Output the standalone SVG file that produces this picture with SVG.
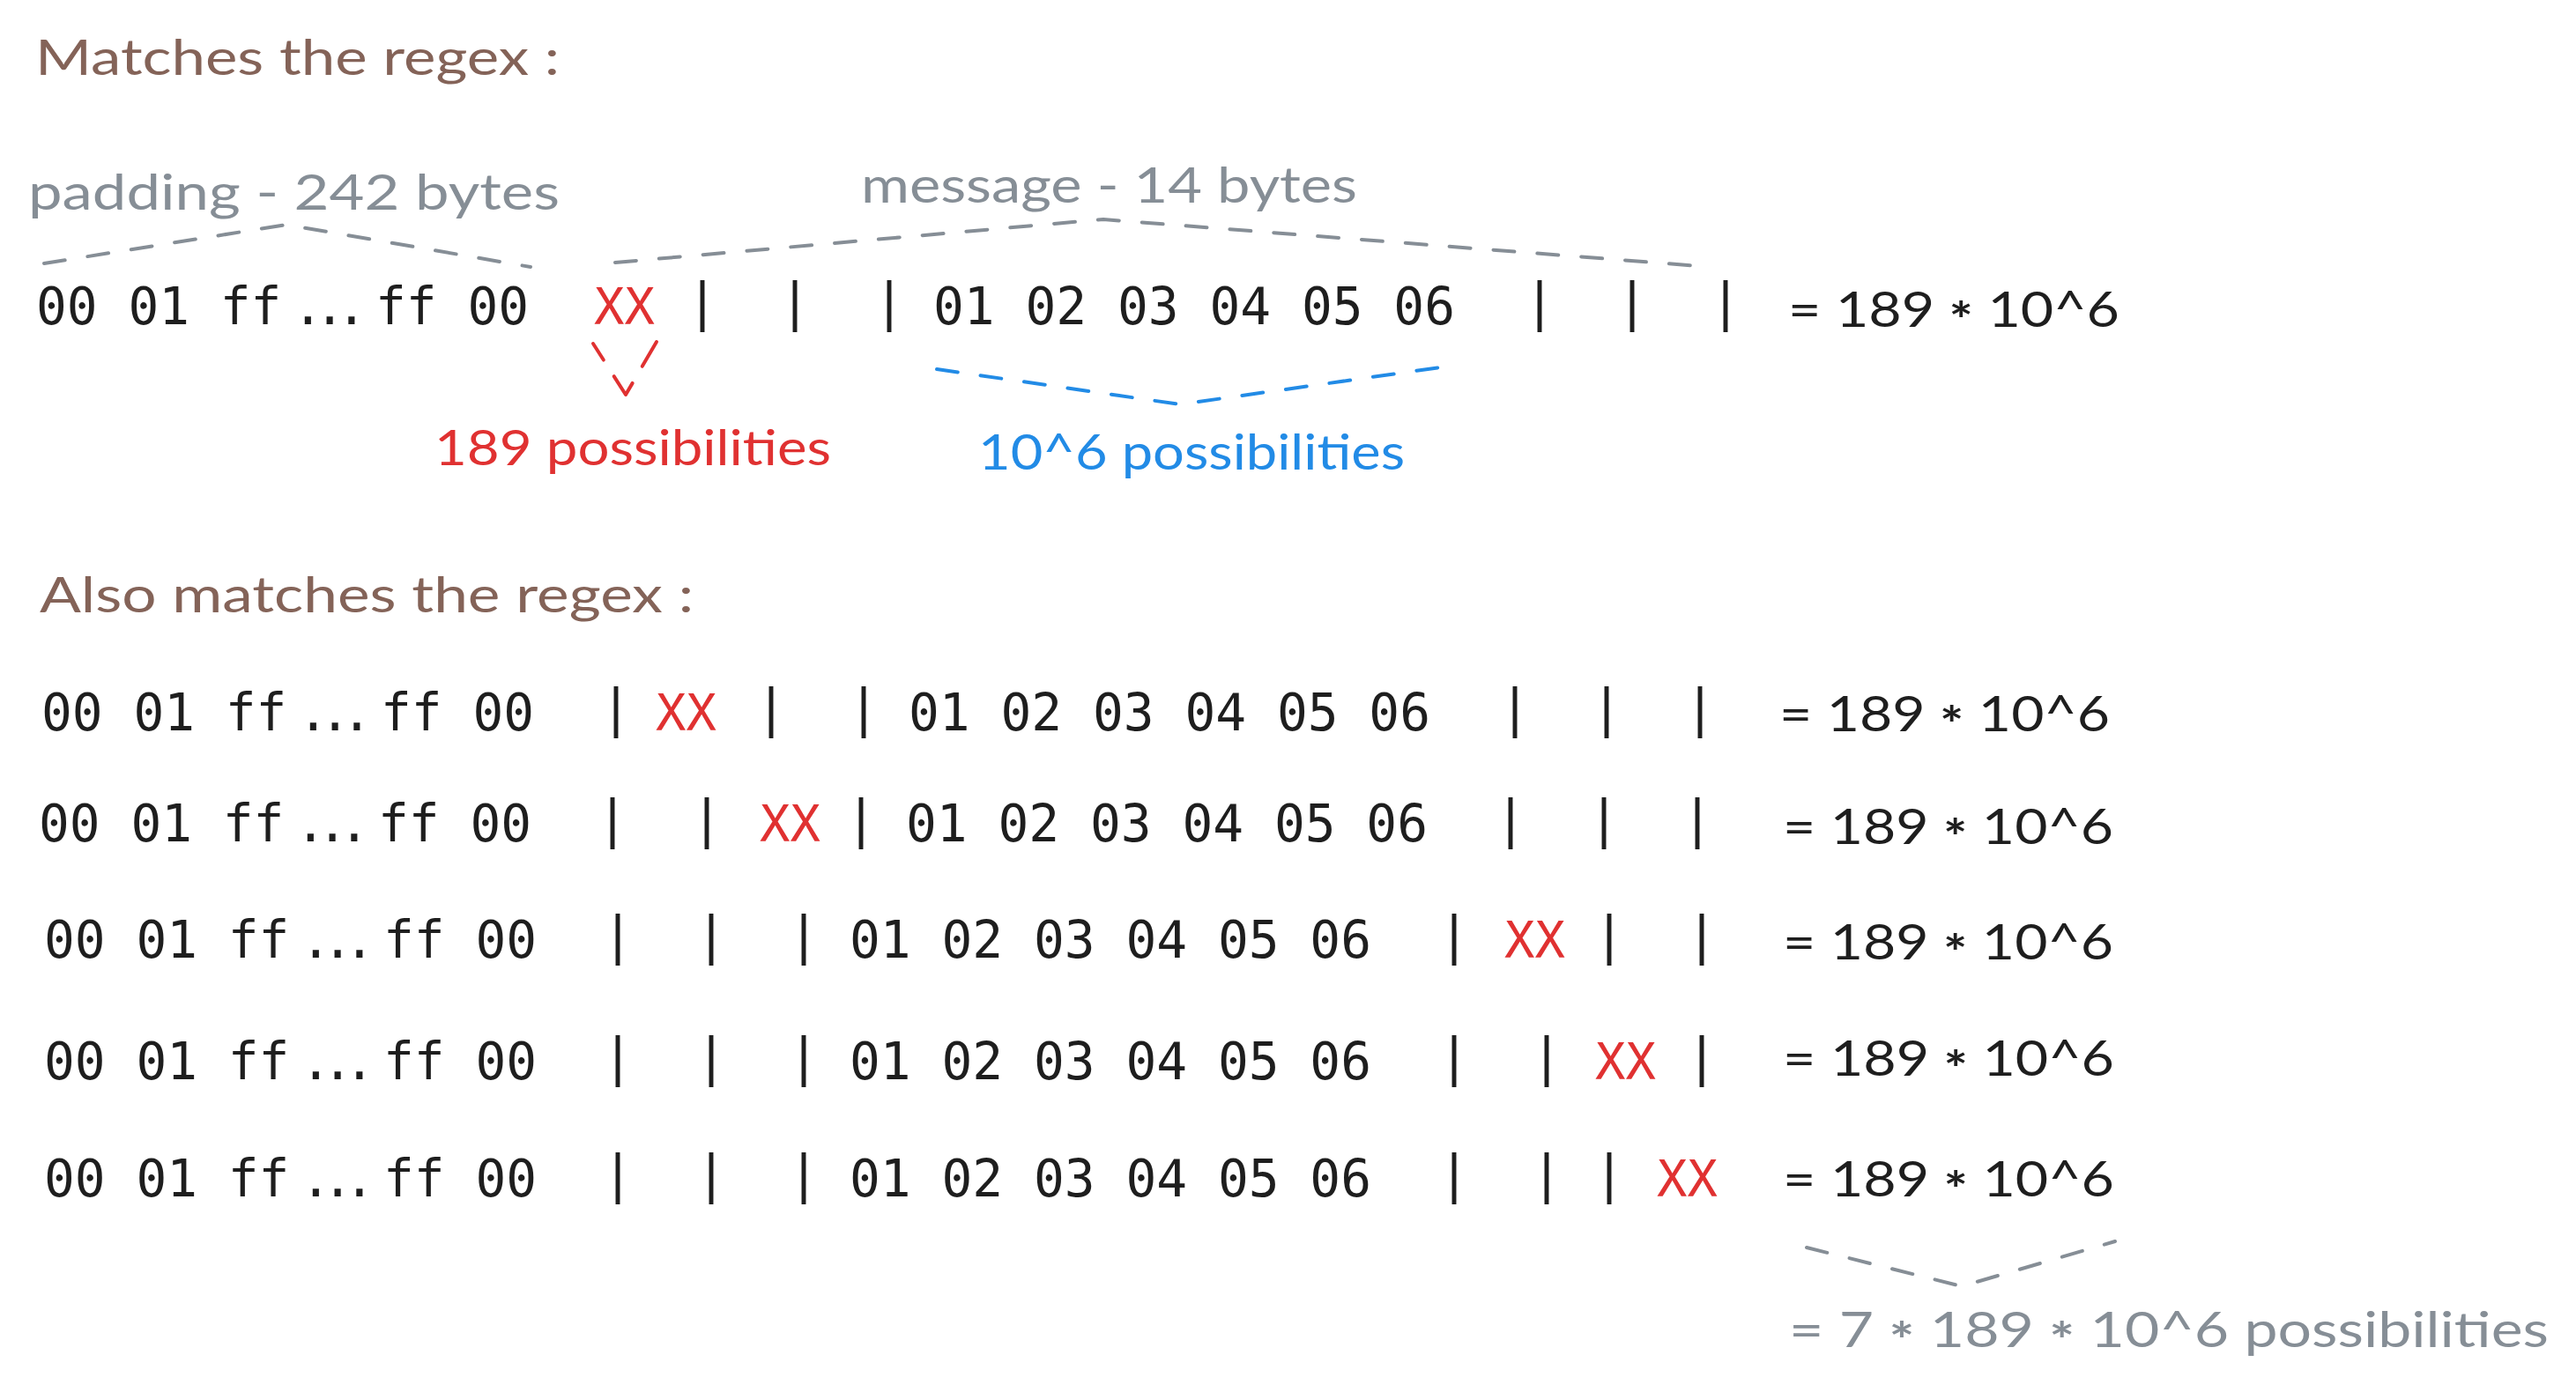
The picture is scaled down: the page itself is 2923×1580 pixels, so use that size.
<svg xmlns="http://www.w3.org/2000/svg" width="2923" height="1580" viewBox="0 0 2923 1580">
<style>
.hand{font-family:Lato,"Open Sans","Noto Sans",sans-serif;font-size:56px;}
.brown{fill:#846358;}
.gray{fill:#868e96;}
.red{fill:#e03131;}
.blue{fill:#228be6;}
.blk{fill:#1e1e1e;}
.mono{font-family:"DejaVu Sans Mono","Liberation Mono",monospace;font-size:57.8px;fill:#1e1e1e;}
.dots{letter-spacing:-10px;}
.xx{font-family:"DejaVu Sans Mono","Liberation Mono",monospace;font-size:57px;fill:#e03131;}
.pipe{font-family:"DejaVu Sans Mono","Liberation Mono",monospace;font-size:59px;fill:#1e1e1e;text-anchor:middle;}
.ast{font-weight:bold;}
.dash{fill:none;stroke-width:4;stroke-linecap:round;stroke-linejoin:round;stroke-dasharray:24 26;}
.vdash{fill:none;stroke-width:4;stroke-linecap:round;stroke-linejoin:round;stroke-dasharray:22 22 40 22 40;}
</style>
<rect width="2923" height="1580" fill="#ffffff"/>

<g id="title1"><text class="hand brown" x="40" y="85" textLength="595" lengthAdjust="spacingAndGlyphs">Matches the regex :</text></g>
<g id="padding-label"><text class="hand gray" x="32" y="238" textLength="603" lengthAdjust="spacingAndGlyphs">padding - 242 bytes</text></g>
<g id="message-label"><text class="hand gray" x="977" y="230" textLength="563" lengthAdjust="spacingAndGlyphs">message - 14 bytes</text></g>

<g id="row1">
<text class="mono" x="41" y="368">00 01 ff<tspan class="dots" x="332">...</tspan><tspan x="426">ff 00</tspan></text>
<text class="xx" x="674" y="368" textLength="69" lengthAdjust="spacingAndGlyphs">XX</text>
<text class="pipe" x="797" y="363">|</text>
<text class="pipe" x="902" y="363">|</text>
<text class="pipe" x="1009" y="363">|</text>
<text class="mono" x="1059" y="368" textLength="592" lengthAdjust="spacingAndGlyphs">01 02 03 04 05 06</text>
<text class="pipe" x="1747" y="363">|</text>
<text class="pipe" x="1852" y="363">|</text>
<text class="pipe" x="1958" y="363">|</text>
<text class="hand blk" x="2029" y="371" textLength="376" lengthAdjust="spacingAndGlyphs">= 189 <tspan class="ast" dy="12">*</tspan><tspan dy="-12"> 10^6</tspan></text>
</g>

<g id="label-189"><text class="hand red" x="493" y="528" textLength="450" lengthAdjust="spacingAndGlyphs">189 possibilities</text></g>
<g id="label-10e6"><text class="hand blue" x="1110" y="533" textLength="484" lengthAdjust="spacingAndGlyphs">10^6 possibilities</text></g>

<g id="title2"><text class="hand brown" x="45" y="695" textLength="742" lengthAdjust="spacingAndGlyphs">Also matches the regex :</text></g>

<g id="row2">
<text class="mono" x="47" y="829">00 01 ff<tspan class="dots" x="338">...</tspan><tspan x="432">ff 00</tspan></text>
<text class="pipe" x="699" y="824">|</text>
<text class="xx" x="744" y="829" textLength="69" lengthAdjust="spacingAndGlyphs">XX</text>
<text class="pipe" x="875" y="824">|</text>
<text class="pipe" x="980" y="824">|</text>
<text class="mono" x="1031" y="829" textLength="592" lengthAdjust="spacingAndGlyphs">01 02 03 04 05 06</text>
<text class="pipe" x="1719" y="824">|</text>
<text class="pipe" x="1823" y="824">|</text>
<text class="pipe" x="1929" y="824">|</text>
<text class="hand blk" x="2019" y="830" textLength="375" lengthAdjust="spacingAndGlyphs">= 189 <tspan class="ast" dy="12">*</tspan><tspan dy="-12"> 10^6</tspan></text>
</g>

<g id="row3">
<text class="mono" x="44" y="955">00 01 ff<tspan class="dots" x="335">...</tspan><tspan x="429">ff 00</tspan></text>
<text class="pipe" x="695" y="950">|</text>
<text class="pipe" x="802" y="950">|</text>
<text class="xx" x="862" y="955" textLength="69" lengthAdjust="spacingAndGlyphs">XX</text>
<text class="pipe" x="977" y="950">|</text>
<text class="mono" x="1028" y="955" textLength="592" lengthAdjust="spacingAndGlyphs">01 02 03 04 05 06</text>
<text class="pipe" x="1714" y="950">|</text>
<text class="pipe" x="1820" y="950">|</text>
<text class="pipe" x="1926" y="950">|</text>
<text class="hand blk" x="2023" y="958" textLength="375" lengthAdjust="spacingAndGlyphs">= 189 <tspan class="ast" dy="12">*</tspan><tspan dy="-12"> 10^6</tspan></text>
</g>

<g id="row4">
<text class="mono" x="50" y="1087">00 01 ff<tspan class="dots" x="341">...</tspan><tspan x="435">ff 00</tspan></text>
<text class="pipe" x="701" y="1082">|</text>
<text class="pipe" x="807" y="1082">|</text>
<text class="pipe" x="912" y="1082">|</text>
<text class="mono" x="964" y="1087" textLength="592" lengthAdjust="spacingAndGlyphs">01 02 03 04 05 06</text>
<text class="pipe" x="1650" y="1082">|</text>
<text class="xx" x="1707" y="1087" textLength="69" lengthAdjust="spacingAndGlyphs">XX</text>
<text class="pipe" x="1826" y="1082">|</text>
<text class="pipe" x="1931" y="1082">|</text>
<text class="hand blk" x="2023" y="1089" textLength="375" lengthAdjust="spacingAndGlyphs">= 189 <tspan class="ast" dy="12">*</tspan><tspan dy="-12"> 10^6</tspan></text>
</g>

<g id="row5">
<text class="mono" x="50" y="1225">00 01 ff<tspan class="dots" x="341">...</tspan><tspan x="435">ff 00</tspan></text>
<text class="pipe" x="701" y="1220">|</text>
<text class="pipe" x="807" y="1220">|</text>
<text class="pipe" x="912" y="1220">|</text>
<text class="mono" x="964" y="1225" textLength="592" lengthAdjust="spacingAndGlyphs">01 02 03 04 05 06</text>
<text class="pipe" x="1650" y="1220">|</text>
<text class="pipe" x="1755" y="1220">|</text>
<text class="xx" x="1810" y="1225" textLength="69" lengthAdjust="spacingAndGlyphs">XX</text>
<text class="pipe" x="1931" y="1220">|</text>
<text class="hand blk" x="2023" y="1221" textLength="376" lengthAdjust="spacingAndGlyphs">= 189 <tspan class="ast" dy="12">*</tspan><tspan dy="-12"> 10^6</tspan></text>
</g>

<g id="row6">
<text class="mono" x="50" y="1358">00 01 ff<tspan class="dots" x="341">...</tspan><tspan x="435">ff 00</tspan></text>
<text class="pipe" x="701" y="1353">|</text>
<text class="pipe" x="807" y="1353">|</text>
<text class="pipe" x="912" y="1353">|</text>
<text class="mono" x="964" y="1358" textLength="592" lengthAdjust="spacingAndGlyphs">01 02 03 04 05 06</text>
<text class="pipe" x="1650" y="1353">|</text>
<text class="pipe" x="1755" y="1353">|</text>
<text class="pipe" x="1826" y="1353">|</text>
<text class="xx" x="1880" y="1358" textLength="69" lengthAdjust="spacingAndGlyphs">XX</text>
<text class="hand blk" x="2023" y="1358" textLength="376" lengthAdjust="spacingAndGlyphs">= 189 <tspan class="ast" dy="12">*</tspan><tspan dy="-12"> 10^6</tspan></text>
</g>

<g id="total"><text class="hand gray" x="2030" y="1529" textLength="862" lengthAdjust="spacingAndGlyphs">= 7 <tspan class="ast" dy="12">*</tspan><tspan dy="-12"> 189 </tspan><tspan class="ast" dy="12">*</tspan><tspan dy="-12"> 10^6 possibilities</tspan></text></g>

<g id="connectors">
<polyline class="dash" stroke="#868e96" points="50,299 325,255 602,303"/>
<polyline class="dash" stroke="#868e96" points="698,298 1252,249 1941,303"/>
<polyline class="vdash" stroke="#e03131" points="673,390 710,448 745,388"/>
<polyline class="dash" stroke="#228be6" points="1063,419 1339,459 1648,415"/>
<polyline class="dash" stroke="#868e96" points="2050,1416 2226,1460 2400,1409"/>
</g>
</svg>
